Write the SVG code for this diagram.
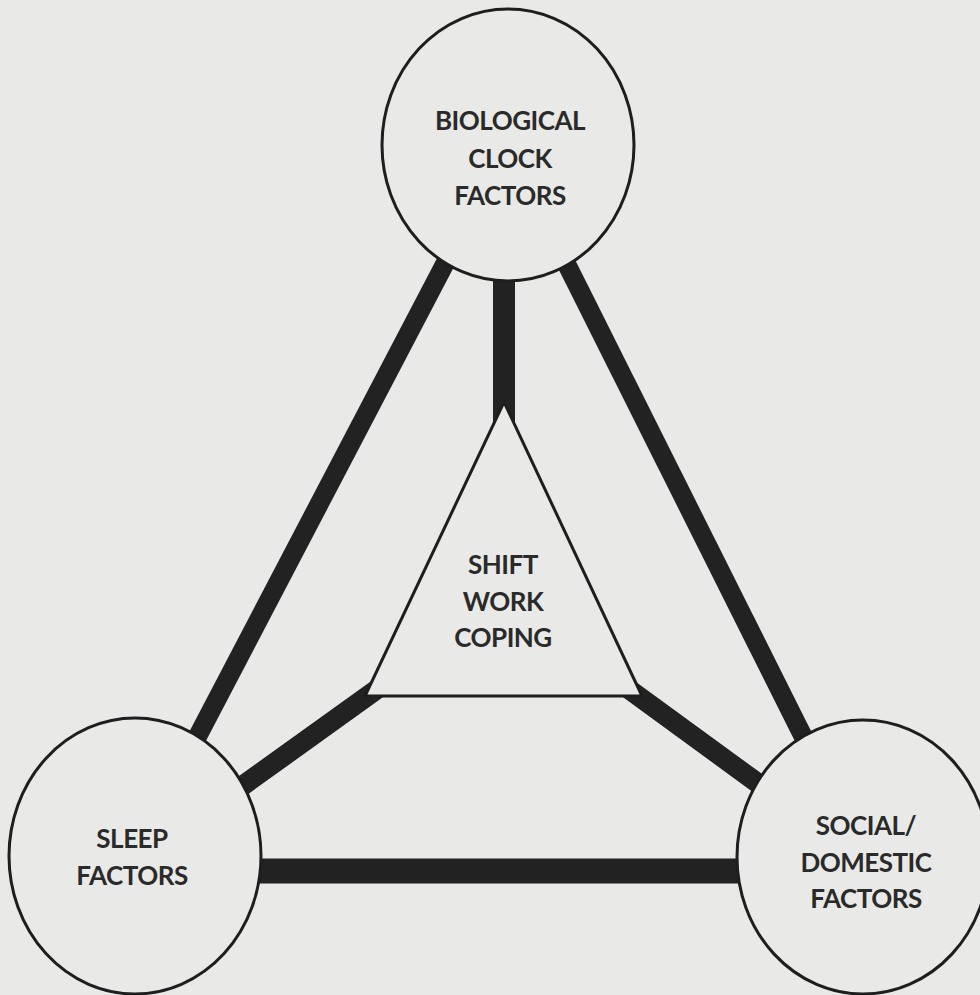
<svg xmlns="http://www.w3.org/2000/svg" width="980" height="995" viewBox="0 0 980 995">
<style>
.bar{stroke:#222;stroke-linecap:butt;fill:none}
.node{fill:#e9e9e7;stroke:#1e1e1e;stroke-width:3}
.lbl{font-family:Lato,"Open Sans","Liberation Sans",sans-serif;font-size:26px;font-weight:bold;letter-spacing:-0.5px;fill:#2a2a2a;text-anchor:middle}
</style>
<rect width="980" height="995" fill="#e9e9e7"/>
<g id="connectors">
<line class="bar" x1="507" y1="145" x2="135" y2="856" stroke-width="19"/>
<line class="bar" x1="507" y1="145" x2="863" y2="856" stroke-width="19"/>
<line class="bar" x1="504" y1="200" x2="504" y2="598" stroke-width="22"/>
<line class="bar" x1="504" y1="598" x2="135" y2="863" stroke-width="20"/>
<line class="bar" x1="504" y1="598" x2="863" y2="860" stroke-width="20"/>
<line class="bar" x1="135" y1="871" x2="863" y2="871" stroke-width="25"/>
</g>
<g id="biological">
<ellipse class="node" cx="508" cy="145" rx="126" ry="136"/>
<text class="lbl" x="510" y="130">BIOLOGICAL</text>
<text class="lbl" x="510" y="168">CLOCK</text>
<text class="lbl" x="510" y="205">FACTORS</text>
</g>
<g id="sleep">
<ellipse class="node" cx="135" cy="856" rx="126" ry="138"/>
<text class="lbl" x="132" y="848">SLEEP</text>
<text class="lbl" x="132" y="885">FACTORS</text>
</g>
<g id="social">
<ellipse class="node" cx="863" cy="857" rx="126" ry="137"/>
<text class="lbl" x="866" y="835">SOCIAL/</text>
<text class="lbl" x="866" y="872">DOMESTIC</text>
<text class="lbl" x="866" y="908">FACTORS</text>
</g>
<g id="coping">
<polygon class="node" points="504,402 642,696 365,696"/>
<text class="lbl" x="503" y="574">SHIFT</text>
<text class="lbl" x="503" y="611">WORK</text>
<text class="lbl" x="503" y="647">COPING</text>
</g>
</svg>
